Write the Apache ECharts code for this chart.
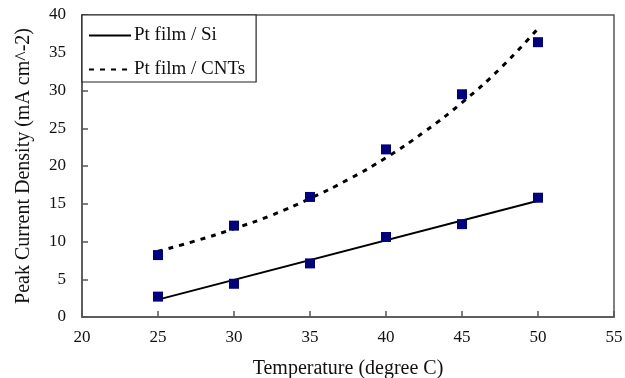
<!DOCTYPE html>
<html>
<head>
<meta charset="utf-8">
<script src="https://cdn.jsdelivr.net/npm/echarts@6/dist/echarts.min.js"></script>
<style>html,body{margin:0;padding:0;background:#fff;}#c{width:625px;height:378px;}</style>
</head>
<body>
<div id="c"></div>
<script>
const temperatures = [25, 30, 35, 40, 45, 50];
const siValues = [2.7, 4.4, 7.1, 10.6, 12.3, 15.8];
const cntValues = [8.2, 12.1, 15.9, 22.2, 29.5, 36.4];
const siTrendX = [25, 50];
const siTrendY = [2.3, 15.4];
const cntTrendX = [25, 27.5, 30, 32.5, 35, 37.5, 40, 42.5, 45, 47.5, 50];
const cntTrendY = [8.7, 10.1, 11.7, 13.5, 15.7, 18.2, 21.1, 24.5, 28.4, 32.9, 38.2];
const xTicks = [20, 25, 30, 35, 40, 45, 50, 55];
const yTicks = [0, 5, 10, 15, 20, 25, 30, 35, 40];
const seriesNames = ['Pt film / Si', 'Pt film / CNTs'];

const zip = (a, b) => a.map((v, i) => [v, b[i]]);
const font = '"Liberation Serif", "Times New Roman", serif';
const chart = echarts.init(document.getElementById('c'));
chart.setOption({
  animation: false,
  backgroundColor: '#fff',
  textStyle: { fontFamily: font },
  grid: { left: 82, top: 15, right: 11, bottom: 61, show: true, borderColor: '#555', borderWidth: 1.5,
          containLabel: false, outerBoundsMode: 'none' },
  legend: {
    data: seriesNames,
    orient: 'vertical',
    left: 82, top: 15,
    padding: [11, 11, 3, 6],
    itemGap: 15,
    itemWidth: 42, itemHeight: 14,
    borderColor: '#222', borderWidth: 1.2,
    backgroundColor: '#fff',
    itemStyle: { opacity: 0 },
    textStyle: { fontFamily: font, fontSize: 19, color: '#111', padding: [0, 0, 0, -2] }
  },
  xAxis: {
    type: 'value', min: xTicks[0], max: xTicks[xTicks.length - 1], interval: 5,
    name: 'Temperature (degree C)', nameLocation: 'middle', nameGap: 42,
    nameTextStyle: { fontFamily: font, fontSize: 20, color: '#111' },
    axisLine: { lineStyle: { color: '#555', width: 1.5 } },
    axisTick: { inside: true, length: 6, lineStyle: { color: '#555', width: 1.5 } },
    axisLabel: { margin: 12, fontFamily: font, fontSize: 17, color: '#111' },
    splitLine: { show: false }
  },
  yAxis: {
    type: 'value', min: yTicks[0], max: yTicks[yTicks.length - 1], interval: 5,
    name: 'Peak Current Density (mA cm^-2)', nameLocation: 'middle', nameGap: 48,
    nameTextStyle: { fontFamily: font, fontSize: 20, color: '#111' },
    axisLine: { lineStyle: { color: '#555', width: 1.5 } },
    axisTick: { inside: true, length: 6, lineStyle: { color: '#555', width: 1.5 } },
    axisLabel: { margin: 16, fontFamily: font, fontSize: 17, color: '#111' },
    splitLine: { show: false }
  },
  series: [
    {
      name: seriesNames[0], type: 'line', data: zip(siTrendX, siTrendY),
      symbol: 'none', lineStyle: { color: '#000', width: 2 }, itemStyle: { color: '#000' }, z: 2
    },
    {
      name: seriesNames[1], type: 'line', data: zip(cntTrendX, cntTrendY), smooth: true,
      symbol: 'none', lineStyle: { color: '#000', width: 3, type: [5, 6] }, itemStyle: { color: '#000' }, z: 2
    },
    {
      name: 'si-pts', type: 'scatter', data: zip(temperatures, siValues),
      symbol: 'rect', symbolSize: 10, itemStyle: { color: '#000080', opacity: 1 }, z: 3
    },
    {
      name: 'cnt-pts', type: 'scatter', data: zip(temperatures, cntValues),
      symbol: 'rect', symbolSize: 10, itemStyle: { color: '#000080', opacity: 1 }, z: 3
    }
  ]
});
</script>
</body>
</html>
